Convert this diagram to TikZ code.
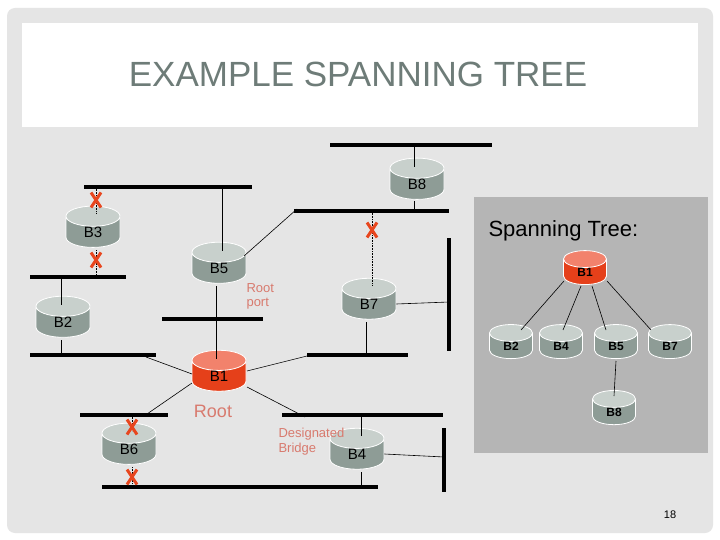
\documentclass[tikz,border=0pt]{standalone}
\usepackage{fontspec}
\setmainfont{Liberation Sans}
\usetikzlibrary{shapes.geometric}
\definecolor{bodyg}{HTML}{8E9C96}
\definecolor{topg}{HTML}{C8D0CC}
\definecolor{bodyr}{HTML}{E5401A}
\definecolor{topr}{HTML}{F2826C}
\definecolor{xred}{HTML}{E8461E}
\definecolor{lbl}{HTML}{D87A6E}
\definecolor{ttl}{HTML}{6E7C78}
\begin{document}
\begin{tikzpicture}[x=1pt,y=-1pt,
  br/.style={cylinder, shape border rotate=90, aspect=1.1, draw=white, line width=0.8pt,
    cylinder uses custom fill, cylinder body fill=bodyg, cylinder end fill=topg,
    minimum width=54pt, minimum height=36pt, inner sep=0pt, font=\fontsize{15}{15}\selectfont},
  rb/.style={br, cylinder body fill=bodyr, cylinder end fill=topr},
  sb/.style={br, minimum width=43pt, minimum height=29pt, font=\bfseries\fontsize{12}{12}\selectfont},
  srb/.style={sb, cylinder body fill=bodyr, cylinder end fill=topr},
  lan/.style={line width=3.2pt},
  th/.style={line width=0.6pt},
  dt/.style={line width=0.6pt, densely dotted},
  xm/.style={xred, line width=3pt}]
\useasboundingbox (0,0) rectangle (720,540);
\fill[white] (0,0) rectangle (720,540);
\fill[gray!20, rounded corners=8pt] (7,8) rectangle (713,533);
\fill[white] (22,23) rectangle (698,127);
\node[text=ttl, font=\fontsize{35}{35}\selectfont] (title) at (358,74) {EXAMPLE SPANNING TREE};
\node[font=\fontsize{11}{11}\selectfont] (pg) at (670,515) {18};
% LAN segments
\draw[lan] (330,145) -- (492,145);
\draw[lan] (84,187) -- (252,187);
\draw[lan] (294,211) -- (449,211);
\draw[lan] (30,277) -- (126,277);
\draw[lan] (162,319) -- (263,319);
\draw[lan] (30,355) -- (156,355);
\draw[lan] (307,355) -- (408,355);
\draw[lan] (449,238) -- (449,351);
\draw[lan] (80,415) -- (168,415);
\draw[lan] (282,415) -- (443,415);
\draw[lan] (444,428) -- (444,492);
\draw[lan] (102,487) -- (378,487);
% bridges
\node[br] (B8) at (417,184) {B8};
\node[br] (B3) at (93,232) {B3};
\node[br] (B5) at (219,268) {B5};
\node[br] (B2) at (63,322) {B2};
\node[br] (B7) at (369,304) {B7};
\node[rb] (B1) at (219,376) {B1};
\node[br] (B6) at (129,449) {B6};
\node[br] (B4) at (357,454) {B4};
% links
\draw[th] (414,145) -- (414,167);
\draw[th] (414,201) -- (414,211);
\draw[dt] (96,187) -- (96,214);
\draw[dt] (96,250) -- (96,277);
\draw[th] (222,187) -- (222,251);
\draw[th] (216,286) -- (216,359);
\draw[th] (244,256) -- (297,209);
\draw[dt] (372,211) -- (372,286);
\draw[th] (B7.east) -- (449,302);
\draw[th] (366,322) -- (366,355);
\draw[th] (61,277) -- (61,305);
\draw[th] (61,340) -- (61,355);
\draw[th] (192,374) -- (146,357);
\draw[th] (247,371) -- (307,356);
\draw[th] (192,383) -- (147,414);
\draw[th] (247,387) -- (305,417);
\draw[dt] (132,415) -- (132,431);
\draw[dt] (132,467) -- (132,487);
\draw[th] (361,415) -- (361,436);
\draw[th] (361,472) -- (361,487);
\draw[th] (B4.east) -- (444,457);
% X marks
\foreach \p in {(96,200),(96,260),(372,230),(132,427),(132,477)}{
  \draw[xm] \p ++(-5,-7.5) -- ++(10,15);
  \draw[xm] \p ++(5,-7.5) -- ++(-10,15);
}
% labels
\node[text=lbl, font=\fontsize{13}{14}\selectfont, align=left, anchor=north west] (rp) at (243,280) {Root\\port};
\node[text=lbl, font=\fontsize{18}{18}\selectfont] (root) at (213,411) {Root};
\node[text=lbl, font=\fontsize{13}{15}\selectfont, align=left, anchor=north west] (db) at (275,425) {Designated\\Bridge};
% spanning tree panel
\fill[gray!58] (474,197) rectangle (708,453);
\node[font=\fontsize{22}{22}\selectfont, anchor=west] (st) at (485,231) {Spanning Tree:};
\node[srb] (t1) at (585,272) {B1};
\node[sb] (t2) at (511,346) {B2};
\node[sb] (t4) at (561,346) {B4};
\node[sb] (t5) at (616,346) {B5};
\node[sb] (t7) at (670,346) {B7};
\node[sb] (t8) at (614,412) {B8};
\draw[th] (564,281) -- (521,330);
\draw[th] (581,286) -- (563,330);
\draw[th] (592,286) -- (606,330);
\draw[th] (607,281) -- (651,330);
\draw[th] (616,361) -- (614,396);
\end{tikzpicture}
\end{document}
